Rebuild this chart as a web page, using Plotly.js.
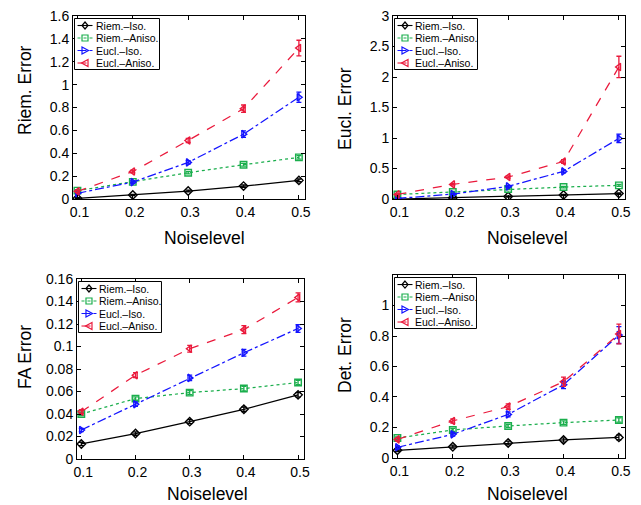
<!DOCTYPE html>
<html>
<head>
<meta charset="utf-8">
<script src="https://cdn.plot.ly/plotly-3.0.1.min.js"></script>
<style>html,body{margin:0;padding:0;background:#fff;}#chart{width:641px;height:505px;}</style>
</head>
<body>
<div id="chart"></div>
<script>
var noise = [0.1, 0.2, 0.3, 0.4, 0.5];
var seriesNames = ['Riem.\u2013Iso.', 'Riem.\u2013Aniso.', 'Eucl.\u2013Iso.', 'Eucl.\u2013Aniso.'];

// Panel 1: Riem. Error
var riemErr_RiemIso = [0.006, 0.035, 0.07, 0.113, 0.163];
var riemErr_RiemAniso = [0.073, 0.15, 0.23, 0.30, 0.364];
var riemErr_EuclIso = [0.05, 0.148, 0.32, 0.567, 0.89];
var riemErr_EuclAniso = [0.067, 0.24, 0.512, 0.79, 1.32];
var riemSd_RiemIso = [0.005, 0.006, 0.008, 0.01, 0.012];
var riemSd_RiemAniso = [0.006, 0.008, 0.01, 0.012, 0.015];
var riemSd_EuclIso = [0.006, 0.01, 0.015, 0.028, 0.045];
var riemSd_EuclAniso = [0.008, 0.012, 0.018, 0.032, 0.068];

// Panel 2: Eucl. Error
var euclErr_RiemIso = [0.0, 0.02, 0.04, 0.065, 0.09];
var euclErr_RiemAniso = [0.075, 0.115, 0.165, 0.196, 0.224];
var euclErr_EuclIso = [0.01, 0.08, 0.207, 0.453, 0.993];
var euclErr_EuclAniso = [0.076, 0.24, 0.36, 0.616, 2.165];
var euclSd_RiemIso = [0.005, 0.006, 0.008, 0.01, 0.012];
var euclSd_RiemAniso = [0.006, 0.008, 0.01, 0.012, 0.015];
var euclSd_EuclIso = [0.006, 0.01, 0.015, 0.025, 0.07];
var euclSd_EuclAniso = [0.008, 0.012, 0.018, 0.03, 0.175];

// Panel 3: FA Error
var faErr_RiemIso = [0.0134, 0.0226, 0.0332, 0.0442, 0.057];
var faErr_RiemAniso = [0.040, 0.0537, 0.059, 0.0626, 0.068];
var faErr_EuclIso = [0.0258, 0.0487, 0.0721, 0.0944, 0.116];
var faErr_EuclAniso = [0.042, 0.0745, 0.098, 0.115, 0.1436];
var faSd_RiemIso = [0.0015, 0.0015, 0.0018, 0.002, 0.002];
var faSd_RiemAniso = [0.0015, 0.0015, 0.0018, 0.002, 0.002];
var faSd_EuclIso = [0.0015, 0.002, 0.0025, 0.003, 0.0035];
var faSd_EuclAniso = [0.0018, 0.0022, 0.003, 0.0035, 0.004];

// Panel 4: Det. Error
var detErr_RiemIso = [0.05, 0.074, 0.098, 0.118, 0.135];
var detErr_RiemAniso = [0.131, 0.184, 0.21, 0.232, 0.249];
var detErr_EuclIso = [0.07, 0.155, 0.286, 0.48, 0.806];
var detErr_EuclAniso = [0.122, 0.243, 0.337, 0.50, 0.813];
var detSd_RiemIso = [0.008, 0.01, 0.012, 0.014, 0.016];
var detSd_RiemAniso = [0.008, 0.01, 0.01, 0.012, 0.014];
var detSd_EuclIso = [0.01, 0.012, 0.016, 0.025, 0.055];
var detSd_EuclAniso = [0.01, 0.014, 0.018, 0.03, 0.065];

var xTickVals = [0.1, 0.2, 0.3, 0.4, 0.5];
var xTickText = ['0.1', '0.2', '0.3', '0.4', '0.5'];
var yTicks1 = [0, 0.2, 0.4, 0.6, 0.8, 1, 1.2, 1.4, 1.6];
var yTicks2 = [0, 0.5, 1, 1.5, 2, 2.5, 3];
var yTicks3 = [0, 0.02, 0.04, 0.06, 0.08, 0.1, 0.12, 0.14, 0.16];
var yTicks4 = [0, 0.2, 0.4, 0.6, 0.8, 1];
var xTitle = 'Noiselevel';
var yTitles = ['Riem. Error', 'Eucl. Error', 'FA Error', 'Det. Error'];

var styles = [
  {color: '#000000', dash: 'solid', symbol: 'diamond-open'},
  {color: '#1aae4c', dash: 'dot', symbol: 'square-open'},
  {color: '#1414ff', dash: 'dashdot', symbol: 'triangle-right-open'},
  {color: '#ea1a3c', dash: 'dash', symbol: 'triangle-left-open'}
];

var panels = [
  {ys: [riemErr_RiemIso, riemErr_RiemAniso, riemErr_EuclIso, riemErr_EuclAniso],
   sds: [riemSd_RiemIso, riemSd_RiemAniso, riemSd_EuclIso, riemSd_EuclAniso]},
  {ys: [euclErr_RiemIso, euclErr_RiemAniso, euclErr_EuclIso, euclErr_EuclAniso],
   sds: [euclSd_RiemIso, euclSd_RiemAniso, euclSd_EuclIso, euclSd_EuclAniso]},
  {ys: [faErr_RiemIso, faErr_RiemAniso, faErr_EuclIso, faErr_EuclAniso],
   sds: [faSd_RiemIso, faSd_RiemAniso, faSd_EuclIso, faSd_EuclAniso]},
  {ys: [detErr_RiemIso, detErr_RiemAniso, detErr_EuclIso, detErr_EuclAniso],
   sds: [detSd_RiemIso, detSd_RiemAniso, detSd_EuclIso, detSd_EuclAniso]}
];

var traces = [];
panels.forEach(function (p, pi) {
  var axSuffix = pi === 0 ? '' : String(pi + 1);
  for (var s = 0; s < 4; s++) {
    traces.push({
      x: noise, y: p.ys[s], name: seriesNames[s], type: 'scatter', mode: 'lines+markers',
      xaxis: 'x' + axSuffix, yaxis: 'y' + axSuffix, showlegend: false,
      line: {color: styles[s].color, width: 1.25, dash: styles[s].dash},
      marker: {symbol: styles[s].symbol, size: 6.5, color: styles[s].color, line: {width: 1.4, color: styles[s].color}},
      error_y: {type: 'data', array: p.sds[s], visible: true, color: styles[s].color, thickness: 1.3, width: 2.5}
    });
  }
});

var W = 641, H = 505;
var font = 'Liberation Sans, Arial, Helvetica, sans-serif';
function xax(domain, anchor) {
  return {domain: domain, anchor: anchor, range: [0.092, 0.511], tickvals: xTickVals, ticktext: xTickText,
    ticks: 'inside', ticklen: 4, tickcolor: '#000', mirror: 'ticks', showline: true, linecolor: '#000', linewidth: 1,
    showgrid: false, zeroline: false, ticklabelshift: 2, tickfont: {size: 14, color: '#000', family: font}};
}
function yax(domain, anchor, range, tickvals) {
  return {domain: domain, anchor: anchor, range: range, tickmode: 'array', tickvals: tickvals,
    ticktext: tickvals.map(String),
    ticks: 'inside', ticklen: 4, tickcolor: '#000', mirror: 'ticks', showline: true, linecolor: '#000', linewidth: 1,
    showgrid: false, zeroline: false, tickfont: {size: 14, color: '#000', family: font}};
}

var xDomains = [[0.1139, 0.4758], [0.6131, 0.975], [0.1201, 0.4743], [0.6131, 0.975]];
var yDomains = [[0.6059, 0.9683], [0.6059, 0.9683], [0.0911, 0.4475], [0.0931, 0.4554]];

var layout = {
  width: W, height: H, margin: {l: 0, r: 0, t: 0, b: 0},
  paper_bgcolor: '#fff', plot_bgcolor: '#fff', showlegend: false,
  xaxis: xax(xDomains[0], 'y'),
  yaxis: yax(yDomains[0], 'x', [0, 1.6], yTicks1),
  xaxis2: xax(xDomains[1], 'y2'),
  yaxis2: yax(yDomains[1], 'x2', [0, 3], yTicks2),
  xaxis3: xax(xDomains[2], 'y3'),
  yaxis3: yax(yDomains[2], 'x3', [0, 0.16], yTicks3),
  xaxis4: xax(xDomains[3], 'y4'),
  yaxis4: yax(yDomains[3], 'x4', [0, 1.2], yTicks4),
  shapes: [], annotations: []
};

function px(x) { return x / W; }
function py(y) { return 1 - y / H; }

// Axis titles, placed where the original figure puts them (off-centre, MATLAB export)
var xTitlePos = [[204, 238], [527, 238], [207, 494], [527, 494]];
var yTitlePos = [[25, 90], [345, 109], [25, 357], [345, 355]];
for (var i = 0; i < 4; i++) {
  layout.annotations.push({xref: 'paper', yref: 'paper', x: px(xTitlePos[i][0]), y: py(xTitlePos[i][1]),
    xanchor: 'center', yanchor: 'middle', showarrow: false, text: xTitle,
    font: {size: 17.5, color: '#000', family: font}});
  layout.annotations.push({xref: 'paper', yref: 'paper', x: px(yTitlePos[i][0]), y: py(yTitlePos[i][1]),
    xanchor: 'center', yanchor: 'middle', showarrow: false, text: yTitles[i], textangle: -90,
    font: {size: 17.5, color: '#000', family: font}});
}

// Compact MATLAB-style legend box in each panel, built from the series names and styles
var legendWidths = [85, 83, 83, 82];
xDomains.forEach(function (xd, pi) {
  var left = xd[0] * W + 1.5;
  var top = (1 - yDomains[pi][1]) * H + 2.5;
  var w = legendWidths[pi], h = 51;
  layout.shapes.push({type: 'rect', xref: 'paper', yref: 'paper', x0: px(left), x1: px(left + w),
    y0: py(top), y1: py(top + h), line: {color: '#000', width: 1}, fillcolor: '#fff', layer: 'above'});
  for (var s = 0; s < 4; s++) {
    var cy = top + 7 + 12.5 * s;
    var st = styles[s];
    layout.shapes.push({type: 'line', xref: 'paper', yref: 'paper', x0: px(left + 3), x1: px(left + 18),
      y0: py(cy), y1: py(cy), line: {color: st.color, width: 1.1, dash: st.dash}, layer: 'above'});
    var cx = left + 10.5, r = 3;
    var pts;
    if (s === 0) pts = [[cx, cy - 3.5], [cx + 3, cy], [cx, cy + 3.5], [cx - 3, cy]];
    else if (s === 1) pts = [[cx - r, cy - r], [cx + r, cy - r], [cx + r, cy + r], [cx - r, cy + r]];
    else if (s === 2) pts = [[cx - 3, cy - 3.5], [cx + 3.5, cy], [cx - 3, cy + 3.5]];
    else pts = [[cx + 3, cy - 3.5], [cx - 3.5, cy], [cx + 3, cy + 3.5]];
    var path = pts.map(function (p, i) { return (i ? 'L' : 'M') + px(p[0]).toFixed(5) + ',' + py(p[1]).toFixed(5); }).join(' ') + ' Z';
    layout.shapes.push({type: 'path', xref: 'paper', yref: 'paper', path: path,
      line: {color: st.color, width: 1.2}, fillcolor: 'rgba(255,255,255,0)', layer: 'above'});
    layout.annotations.push({xref: 'paper', yref: 'paper', x: px(left + 20), y: py(cy), xanchor: 'left', yanchor: 'middle',
      showarrow: false, text: seriesNames[s], font: {size: 10.5, color: '#000', family: font}, borderpad: 0});
  }
});

Plotly.newPlot('chart', traces, layout, {displayModeBar: false, staticPlot: true});
</script>
</body>
</html>
